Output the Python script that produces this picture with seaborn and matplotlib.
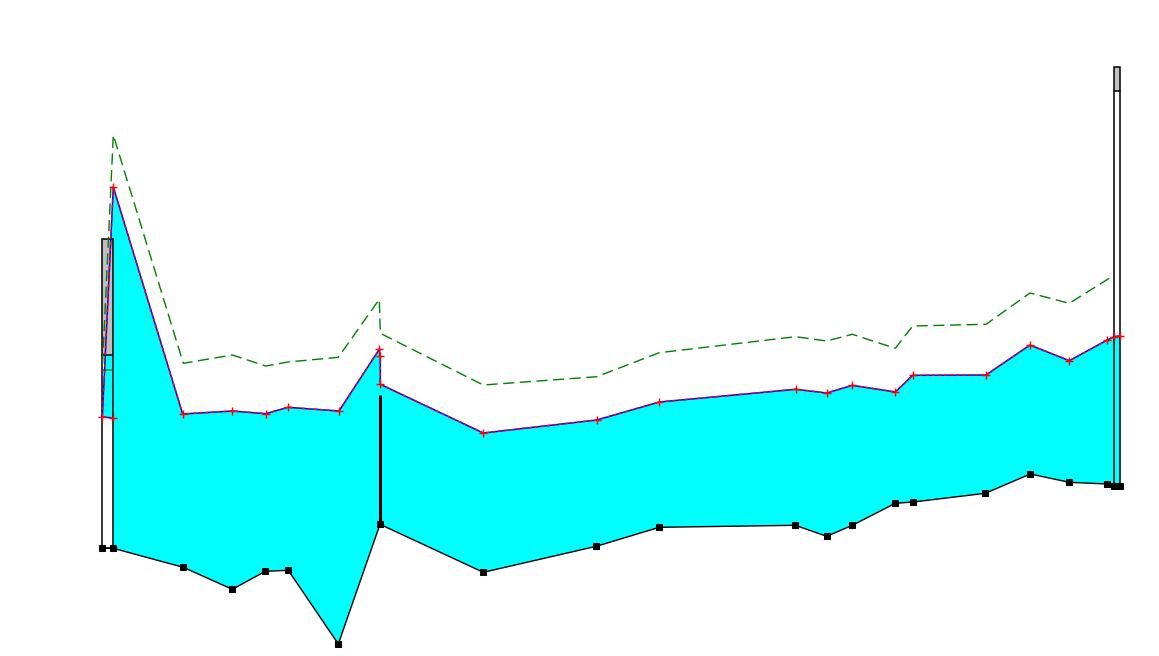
import numpy as np
import pandas as pd
import matplotlib
matplotlib.use("Agg")
import matplotlib.pyplot as plt
from matplotlib.patches import Rectangle
import seaborn as sns

# ---------------- data (distance along section, depth) ----------------
top_x = [113.3, 102.3, 113.3, 182.7, 232.3, 265.7, 288.0, 339.0, 379.3, 380.3, 380.3,
         483.3, 596.7, 659.3, 795.7, 826.7, 852.3, 895.3, 912.7, 986.0, 1030.0,
         1069.3, 1107.3, 1114.0, 1120.0]
top_y = [418.0, 417.0, 187.0, 414.0, 411.0, 413.7, 407.3, 411.0, 349.3, 356.3, 384.3,
         433.0, 420.0, 402.0, 389.3, 393.0, 385.3, 392.0, 375.3, 375.0, 345.0,
         360.7, 340.0, 336.7, 336.0]

bot_x = [102.3, 113.3, 183.3, 232.3, 265.3, 288.3, 338.3, 380.0, 483.3, 596.3, 659.3,
         795.3, 826.7, 852.3, 895.3, 913.3, 985.3, 1030.3, 1069.3, 1107.3, 1114.0, 1120.0]
bot_y = [548.3, 548.3, 567.3, 589.3, 571.3, 570.3, 644.0, 524.3, 572.3, 546.3, 527.3,
         525.3, 536.3, 525.3, 503.3, 502.0, 493.3, 474.0, 482.3, 484.0, 486.0, 486.0]

grn_x = [113.3, 102.3, 113.3, 183.3, 232.3, 265.7, 288.0, 338.3, 379.3, 380.3, 483.3,
         596.7, 659.3, 795.7, 826.7, 852.3, 895.3, 912.7, 986.0, 1030.0, 1069.3, 1114.0]
grn_y = [370.0, 370.0, 135.0, 363.3, 355.0, 366.0, 362.0, 357.3, 299.3, 333.3, 385.0,
         376.7, 352.7, 336.7, 341.0, 334.3, 348.3, 326.0, 324.3, 293.0, 303.3, 275.3]

# wells: left edge, right edge, top, bottom of grey section, bottom
well_left = [102.3, 1114.0]
well_right = [113.3, 1120.3]
well_top = [239.0, 67.3]
well_grey_bot = [355.3, 91.3]
well_bot = [548.3, 486.0]

# thick black marker bar
bar_x = [380.0, 380.0]
bar_y = [395.0, 524.3]

# ---------------- plot ----------------
sns.set_style("white")
fig = plt.figure(figsize=(11.59, 6.56), dpi=100)
ax = fig.add_axes([0, 0, 1, 1])

# cyan fill polygon: top boundary (from second point on) then bottom reversed
poly_x = top_x[1:] + bot_x[::-1][:-1] + [top_x[0]]
poly_y = top_y[1:] + bot_y[::-1][:-1] + [top_y[0]]
# bottom reversed ends with (113.3,548.3),(102.3,548.3); replace last with step to (113.3,418)
poly_x = top_x[1:] + bot_x[::-1][:-1] + [top_x[0]]
poly_y = top_y[1:] + bot_y[::-1][:-1] + [top_y[0]]
ax.fill(poly_x, poly_y, color="#00ffff", lw=0, zorder=1)

# wells
for l, r, t, g, b in zip(well_left, well_right, well_top, well_grey_bot, well_bot):
    ax.add_patch(Rectangle((l, t), r - l, g - t, facecolor="#c0c0c0",
                           edgecolor="none", zorder=2))
    ax.add_patch(Rectangle((l, t), r - l, b - t, facecolor="none",
                           edgecolor="black", lw=1.1, zorder=3))
    ax.plot([l, r], [g, g], color="black", lw=1.1, zorder=3)

# thick bar
ax.plot(bar_x, bar_y, color="black", lw=2.2, zorder=3, solid_capstyle="butt")

# green dashed line
sns.lineplot(x=grn_x, y=grn_y, sort=False, estimator=None, color="#007f00",
             lw=1.0, linestyle=(0, (8, 4)), ax=ax, zorder=4)

# top line: blue solid with red dashes
sns.lineplot(x=top_x, y=top_y, sort=False, estimator=None, color="blue",
             lw=1.1, ax=ax, zorder=4)
sns.lineplot(x=top_x, y=top_y, sort=False, estimator=None, color="red",
             lw=1.1, linestyle=(0, (2, 2)), marker="+", markersize=6,
             markeredgewidth=1.0, markeredgecolor="red", ax=ax, zorder=5)

# bottom line with squares
sns.lineplot(x=bot_x, y=bot_y, sort=False, estimator=None, color="black",
             lw=1.0, marker="s", markersize=4.2, markeredgecolor="black",
             ax=ax, zorder=5)

ax.set_xlim(0, 1159)
ax.set_ylim(656, 0)
ax.set_axis_off()
fig.savefig("out.png", dpi=100, facecolor="white")
